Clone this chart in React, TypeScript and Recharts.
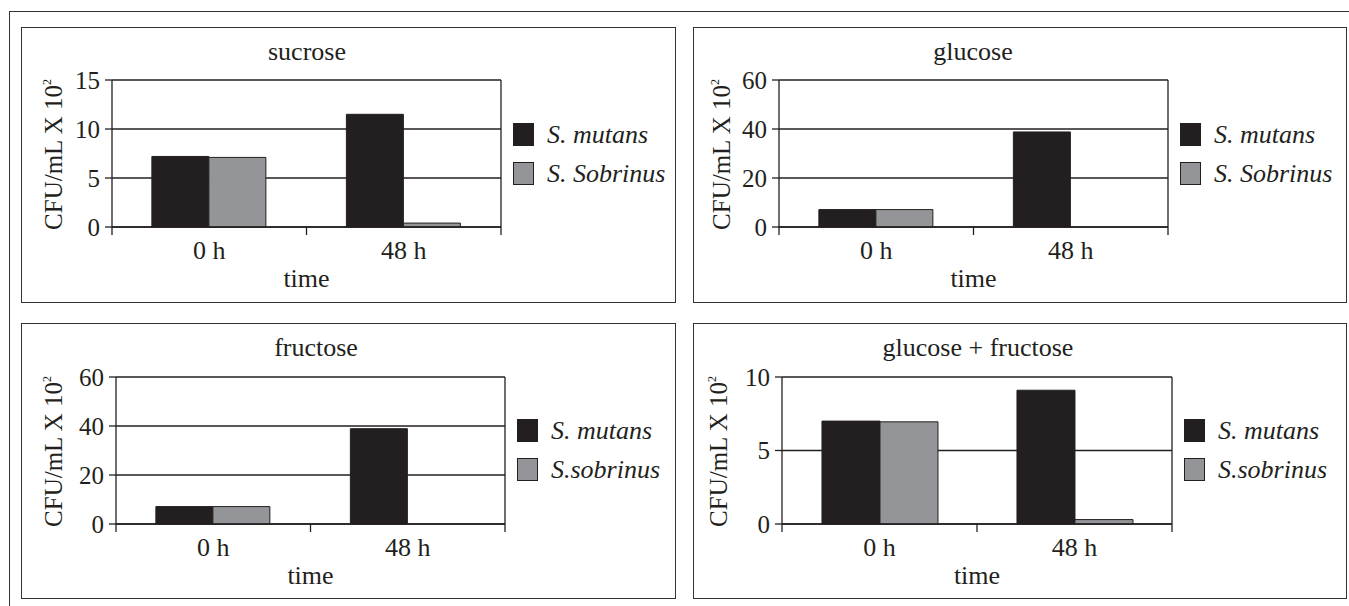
import React from "react";
import { BarChart, Bar, XAxis, YAxis, CartesianGrid, Legend } from "recharts";

const times = ["0 h", "48 h"];

const sucroseMutans = [7.2, 11.5];
const sucroseSobrinus = [7.1, 0.4];
const glucoseMutans = [7.1, 38.8];
const glucoseSobrinus = [7.1, 0];
const fructoseMutans = [7.1, 38.9];
const fructoseSobrinus = [7.1, 0];
const mixMutans = [7.0, 9.1];
const mixSobrinus = [6.95, 0.3];

const sucroseTicks = [0, 5, 10, 15];
const glucoseTicks = [0, 20, 40, 60];
const fructoseTicks = [0, 20, 40, 60];
const mixTicks = [0, 5, 10];

const namesTop = ["S. mutans", "S. Sobrinus"];
const namesBottom = ["S. mutans", "S.sobrinus"];

const INK = "#231f20";
const DARK = "#231f20";
const GREY = "#939598";
const FONT = "Liberation Serif, DejaVu Serif, Tinos, Times New Roman, serif";

type PanelProps = {
  title: string;
  mutans: number[];
  sobrinus: number[];
  ticks: number[];
  names: string[];
  left: number;
  top: number;
  w: number;
  h: number;
  plot: { l: number; r: number; t: number; b: number };
  labelX: number;
  titleX: number;
};

function Panel(p: PanelProps) {
  const rows = times.map((t, i) => ({ time: t, mutans: p.mutans[i], sobrinus: p.sobrinus[i] }));
  const yAxisW = 60;
  const xAxisH = 60;
  const margin = {
    top: p.plot.t,
    left: p.plot.l - yAxisW,
    right: p.w - p.plot.r,
    bottom: p.h - p.plot.b - xAxisH,
  };
  const mid = (p.plot.l + p.plot.r) / 2;
  const axisY = p.plot.b;
  const swatch = [DARK, GREY];

  const timeTick = (props: any) => {
    const { x, payload, index } = props;
    return (
      <g>
        {index === 0 &&
          [p.plot.l, mid, p.plot.r].map((bx) => (
            <line key={bx} x1={bx} x2={bx} y1={axisY} y2={axisY + 8} stroke={INK} strokeWidth={1.3} />
          ))}
        <text x={x} y={axisY + 32} textAnchor="middle" fill={INK} fontSize={26} fontFamily={FONT}>
          {payload.value}
        </text>
      </g>
    );
  };

  const yLabel = () => (
    <text
      transform={`translate(${p.labelX},${(p.plot.t + p.plot.b) / 2 + 1}) rotate(-90)`}
      textAnchor="middle"
      fill={INK}
      fontSize={25}
      fontFamily={FONT}
    >
      CFU/mL X 10
      <tspan dy={-11} fontSize={12}>
        2
      </tspan>
    </text>
  );

  // legend keeps the series order (Recharts sorts its payload by name)
  const legendContent = () => (
    <div>
      {p.names.map((n, i) => (
        <div key={n} style={{ display: "flex", alignItems: "center", height: 39 }}>
          <span
            style={{
              display: "inline-block",
              width: 21,
              height: 23,
              background: swatch[i],
              border: `1.5px solid ${INK}`,
              boxSizing: "border-box",
            }}
          />
          <span
            style={{
              marginLeft: 13,
              fontStyle: "italic",
              fontSize: 26,
              fontFamily: FONT,
              color: INK,
              whiteSpace: "nowrap",
            }}
          >
            {n}
          </span>
        </div>
      ))}
    </div>
  );

  return (
    <div style={{ position: "absolute", left: p.left, top: p.top, width: p.w, height: p.h }}>
      <div
        style={{
          position: "absolute",
          inset: 0,
          border: `1.5px solid #333`,
          boxSizing: "border-box",
        }}
      />
      <div
        style={{
          position: "absolute",
          left: p.titleX - 200,
          width: 400,
          top: 12,
          textAlign: "center",
          fontSize: 26,
          lineHeight: "26px",
          fontFamily: FONT,
          color: INK,
        }}
      >
        {p.title}
      </div>
      <div style={{ position: "absolute", left: 0, top: 0 }}>
        <BarChart
          width={p.w}
          height={p.h}
          data={rows}
          margin={margin}
          barCategoryGap="20.5%"
          barGap={0}
        >
          <CartesianGrid
            stroke={INK}
            strokeWidth={1.3}
            horizontal={true}
            vertical={true}
            verticalPoints={[p.plot.r]}
          />
          <XAxis
            dataKey="time"
            height={xAxisH}
            axisLine={{ stroke: INK, strokeWidth: 1.3 }}
            tickLine={false}
            tick={timeTick}
            interval={0}
            label={{
              value: "time",
              position: "insideBottom",
              offset: 0,
              fill: INK,
              fontSize: 26,
              fontFamily: FONT,
            }}
          />
          <YAxis
            width={yAxisW}
            domain={[0, p.ticks[p.ticks.length - 1]]}
            ticks={p.ticks}
            interval={0}
            tickSize={7}
            tickMargin={5}
            axisLine={{ stroke: INK, strokeWidth: 1.3 }}
            tickLine={{ stroke: INK, strokeWidth: 1.3 }}
            tick={{ fill: INK, fontSize: 25, fontFamily: FONT }}
            label={yLabel}
          />
          <Legend
            layout="horizontal"
            align="center"
            verticalAlign="middle"
            content={legendContent}
            wrapperStyle={{ left: p.plot.r + 12, top: 88, width: "auto", height: "auto" }}
          />
          <Bar
            dataKey="mutans"
            name={p.names[0]}
            fill={DARK}
            stroke={INK}
            strokeWidth={1}
            isAnimationActive={false}
          />
          <Bar
            dataKey="sobrinus"
            name={p.names[1]}
            fill={GREY}
            stroke={INK}
            strokeWidth={1}
            isAnimationActive={false}
          />
        </BarChart>
      </div>
    </div>
  );
}

export default function App() {
  return (
    <div
      style={{
        position: "absolute",
        left: 0,
        top: 0,
        width: 1349,
        height: 606,
        background: "#fff",
        overflow: "hidden",
        fontFamily: FONT,
      }}
    >
      <div
        style={{
          position: "absolute",
          left: 9,
          top: 11,
          width: 1345,
          height: 600,
          borderTop: "1.5px solid #333",
          borderLeft: "1.5px solid #333",
        }}
      />
      <Panel
        title="sucrose"
        mutans={sucroseMutans}
        sobrinus={sucroseSobrinus}
        ticks={sucroseTicks}
        names={namesTop}
        left={21}
        top={27}
        w={655}
        h={276}
        plot={{ l: 91, r: 480, t: 53, b: 200 }}
        labelX={41}
        titleX={286}
      />
      <Panel
        title="glucose"
        mutans={glucoseMutans}
        sobrinus={glucoseSobrinus}
        ticks={glucoseTicks}
        names={namesTop}
        left={693}
        top={27}
        w={654}
        h={276}
        plot={{ l: 86, r: 475, t: 53, b: 200 }}
        labelX={37}
        titleX={280}
      />
      <Panel
        title="fructose"
        mutans={fructoseMutans}
        sobrinus={fructoseSobrinus}
        ticks={fructoseTicks}
        names={namesBottom}
        left={21}
        top={323}
        w={655}
        h={276}
        plot={{ l: 95, r: 484, t: 54, b: 201 }}
        labelX={41}
        titleX={295}
      />
      <Panel
        title="glucose + fructose"
        mutans={mixMutans}
        sobrinus={mixSobrinus}
        ticks={mixTicks}
        names={namesBottom}
        left={693}
        top={323}
        w={654}
        h={276}
        plot={{ l: 89, r: 479, t: 54, b: 201 }}
        labelX={34}
        titleX={285}
      />
    </div>
  );
}
